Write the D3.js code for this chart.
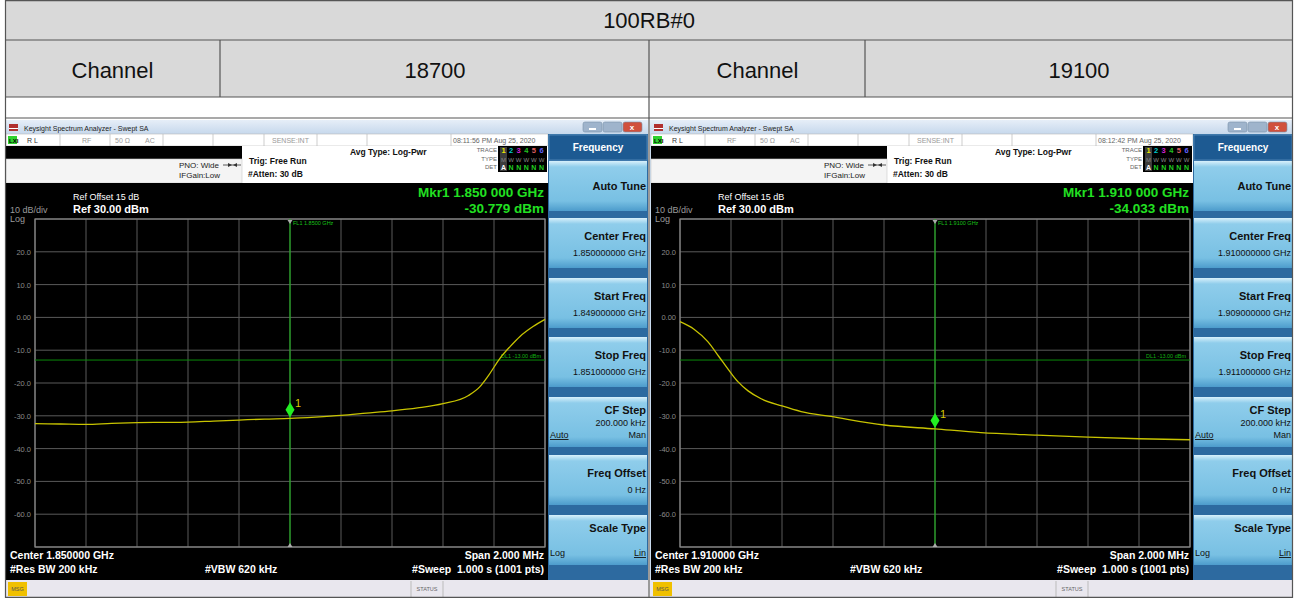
<!DOCTYPE html>
<html>
<head>
<meta charset="utf-8">
<script src="https://cdn.jsdelivr.net/npm/d3@7"></script>
<style>
  body { margin: 0; background: #fff; }
  svg { display: block; }
  text { font-family: "Liberation Sans", Arial, sans-serif; }
</style>
</head>
<body>
<svg id="chart" width="1298" height="598"></svg>
<script>
// table header
var tableTitle = "100RB#0";
var channelLabel = "Channel";
var channels = ["18700", "19100"];

// analyzer settings for each channel
var centerGHz = ["1.850000", "1.910000"];
var startGHz = ["1.849000000", "1.909000000"];
var stopGHz = ["1.851000000", "1.911000000"];
var centerFull = ["1.850000000", "1.910000000"];
var timeStamps = ["08:11:56 PM Aug 25, 2020", "08:12:42 PM Aug 25, 2020"];
var mkrFreq = ["1.850 000 GHz", "1.910 000 GHz"];
var mkrDbm = [-30.779, -34.033];
var mkrMHz = [1850.0, 1910.0];
var flLabel = ["FL1 1.8500 GHz", "FL1 1.9100 GHz"];
var spanMHz = [[1849.0, 1851.0], [1909.0, 1911.0]];
var displayLine = -13;

// y axis (dBm)
var yTicks = [30, 20, 10, 0, -10, -20, -30, -40, -50, -60, -70];

var trace1Freq = [1849.0, 1849.1, 1849.2, 1849.3, 1849.4, 1849.5, 1849.6, 1849.7, 1849.8, 1849.9,
                  1850.0, 1850.1, 1850.2, 1850.3, 1850.4, 1850.5, 1850.6, 1850.7, 1850.745, 1850.776,
                  1850.824, 1850.863, 1850.902, 1850.953, 1851.0];
var trace1Dbm = [-32.4, -32.5, -32.6, -32.3, -32.1, -32.0, -31.9, -31.6, -31.3, -31.0,
                 -30.8, -30.4, -29.9, -29.2, -28.5, -27.6, -26.3, -23.8, -21.1, -18.0,
                 -12.4, -8.9, -5.8, -2.8, -0.6];

// trace 2 : channel 19100
var trace2Freq = [1909.0, 1909.055, 1909.109, 1909.153, 1909.2, 1909.227, 1909.267, 1909.318, 1909.4,
                  1909.475, 1909.592, 1909.8, 1910.0, 1910.18, 1910.4, 1910.6, 1910.8, 1911.0];
var trace2Dbm = [-1.3, -3.6, -7.4, -12.0, -17.0, -19.6, -22.4, -24.8, -27.0,
                 -28.7, -30.2, -32.8, -34.0, -35.1, -35.9, -36.5, -37.0, -37.3];

var traces = [[trace1Freq, trace1Dbm], [trace2Freq, trace2Dbm]];

var panelButtons = ["Auto Tune", "Center Freq", "Start Freq", "Stop Freq", "CF Step", "Freq Offset", "Scale Type"];

function num(v, d){ return v.toFixed(d); }  // plain hyphen minus like the instrument

var svg = d3.select("#chart");
var defs = svg.append("defs");

var btnGrad = defs.append("linearGradient").attr("id", "btn").attr("x1", 0).attr("y1", 0).attr("x2", 0).attr("y2", 1);
btnGrad.append("stop").attr("offset", "0").attr("stop-color", "#d8f0fb");
btnGrad.append("stop").attr("offset", "0.12").attr("stop-color", "#8fcdeb");
btnGrad.append("stop").attr("offset", "0.8").attr("stop-color", "#78c0e3");
btnGrad.append("stop").attr("offset", "1").attr("stop-color", "#4d9ccc");

var titleGrad = defs.append("linearGradient").attr("id", "tbar").attr("x1", 0).attr("y1", 0).attr("x2", 0).attr("y2", 1);
titleGrad.append("stop").attr("offset", "0").attr("stop-color", "#e6eef8");
titleGrad.append("stop").attr("offset", "1").attr("stop-color", "#c6d8ec");

// ---- table ----
var tbl = svg.append("g");
tbl.append("rect").attr("x", 5).attr("y", 0).attr("width", 1288).attr("height", 97).attr("fill", "#d9d9d9");
tbl.append("text").attr("x", 649).attr("y", 28).attr("text-anchor", "middle")
  .style("font-size", "22px").attr("fill", "#111").text(tableTitle);
var cellX = [5, 220, 650, 865, 1293];
var cellTexts = [channelLabel, channels[0], channelLabel, channels[1]];
cellTexts.forEach(function(t, i){
  tbl.append("text").attr("x", (cellX[i] + cellX[i+1]) / 2).attr("y", 78).attr("text-anchor", "middle")
    .style("font-size", "22px").attr("fill", "#111").text(t);
});

// ---- screenshots ----
function drawScreen(x0, k){
  var g = svg.append("g").attr("transform", "translate(" + x0 + ",0)");
  var W = 643;

  // window frame + title bar
  g.append("rect").attr("x", 0).attr("y", 120).attr("width", W).attr("height", 478).attr("fill", "#c9dbee");
  g.append("rect").attr("x", 0).attr("y", 120).attr("width", W).attr("height", 14).attr("fill", "url(#tbar)");
  g.append("rect").attr("x", 4).attr("y", 124).attr("width", 9).attr("height", 7).attr("fill", "#b03030");
  g.append("rect").attr("x", 4).attr("y", 128).attr("width", 9).attr("height", 1).attr("fill", "#fff");
  g.append("text").attr("x", 19).attr("y", 131).style("font-size", "7px").attr("fill", "#222")
    .text("Keysight Spectrum Analyzer - Swept SA");
  [[578, "#9fb4cc"], [598, "#9fb4cc"], [618, "#d0503c"]].forEach(function(b){
    g.append("rect").attr("x", b[0]).attr("y", 122).attr("width", 19).attr("height", 10).attr("rx", 2)
      .attr("fill", b[1]).attr("stroke", "#7890aa").attr("stroke-width", 0.6);
  });
  g.append("rect").attr("x", 584).attr("y", 128).attr("width", 7).attr("height", 2).attr("fill", "#fff");
  g.append("text").attr("x", 627).attr("y", 130).attr("text-anchor", "middle").style("font-size", "8px")
    .attr("fill", "#fff").style("font-weight", "bold").text("x");

  // status row
  g.append("rect").attr("x", 1).attr("y", 134).attr("width", 542).attr("height", 12).attr("fill", "#fff")
    .attr("stroke", "#b8b8b8").attr("stroke-width", 0.6);
  g.append("rect").attr("x", 3).attr("y", 136).attr("width", 9).attr("height", 8).attr("fill", "#2fd12f");
  g.append("text").attr("x", 4).attr("y", 143).style("font-size", "6px").style("font-weight", "bold").attr("fill", "#000").text("LXI");
  [55, 105, 158, 208, 259, 312, 362, 446].forEach(function(sx){
    g.append("line").attr("x1", sx).attr("x2", sx).attr("y1", 134).attr("y2", 146).attr("stroke", "#b8b8b8").attr("stroke-width", 0.7);
  });
  var stat = [[22, "R L", "#333"], [77, "RF", "#999"], [110, "50 Ω", "#999"], [140, "AC", "#999"], [267, "SENSE:INT", "#999"], [448, timeStamps[k], "#666"]];
  stat.forEach(function(s){
    g.append("text").attr("x", s[0]).attr("y", 143).style("font-size", "7px").attr("fill", s[2]).text(s[1]);
  });

  // settings area
  g.append("rect").attr("x", 1).attr("y", 146).attr("width", 542).attr("height", 37).attr("fill", "#fff");
  g.append("rect").attr("x", 1).attr("y", 146).attr("width", 236).attr("height", 13).attr("fill", "#000");
  g.append("rect").attr("x", 1).attr("y", 159).attr("width", 236).attr("height", 24).attr("fill", "#f4f4f4")
    .attr("stroke", "#c8c8c8").attr("stroke-width", 0.6);
  g.append("text").attr("x", 214).attr("y", 168).attr("text-anchor", "end").style("font-size", "8px").attr("fill", "#222").text("PNO: Wide");
  g.append("text").attr("x", 215).attr("y", 178).attr("text-anchor", "end").style("font-size", "8px").attr("fill", "#222").text("IFGain:Low");
  g.append("line").attr("x1", 218).attr("x2", 236).attr("y1", 165).attr("y2", 165).attr("stroke", "#333").attr("stroke-width", 0.8);
  g.append("path").attr("d", "M223,163L227,165L223,167Z M232,163L228,165L232,167Z").attr("fill", "#333");
  g.append("text").attr("x", 244).attr("y", 164).style("font-size", "8.5px").style("font-weight", "bold").attr("fill", "#111").text("Trig: Free Run");
  g.append("text").attr("x", 243).attr("y", 177).style("font-size", "8.5px").style("font-weight", "bold").attr("fill", "#111").text("#Atten: 30 dB");
  g.append("text").attr("x", 345).attr("y", 155).style("font-size", "8.5px").style("font-weight", "bold").attr("fill", "#111").text("Avg Type: Log-Pwr");

  // trace box
  var tx = 493;
  ["TRACE", "TYPE", "DET"].forEach(function(t, i){
    g.append("text").attr("x", tx - 1).attr("y", 152 + i * 8.5).attr("text-anchor", "end").style("font-size", "6px").attr("fill", "#666").text(t);
  });
  g.append("rect").attr("x", tx).attr("y", 146).attr("width", 49).attr("height", 26).attr("fill", "#000");
  g.append("rect").attr("x", tx + 2).attr("y", 147).attr("width", 7).attr("height", 24).attr("fill", "#3c3c3c");
  var tcol = ["#e8e800", "#00c8c8", "#d020d0", "#20c020", "#e06060", "#6060ff"];
  tcol.forEach(function(c, i){
    g.append("text").attr("x", tx + 5.5 + i * 7.6).attr("y", 153).attr("text-anchor", "middle")
      .style("font-size", "7.5px").style("font-weight", "bold").attr("fill", c).text(i + 1);
    g.append("text").attr("x", tx + 5.5 + i * 7.6).attr("y", 170).attr("text-anchor", "middle")
      .style("font-size", "7px").style("font-weight", "bold").attr("fill", i === 0 ? "#fff" : "#20d020").text(i === 0 ? "A" : "N");
    g.append("text").attr("x", tx + 5.5 + i * 7.6).attr("y", 161.5).attr("text-anchor", "middle")
      .style("font-size", "6px").attr("fill", "#888").text(i === 0 ? "M" : "W");
  });

  // main black screen
  g.append("rect").attr("x", 1).attr("y", 183).attr("width", 542).attr("height", 397).attr("fill", "#000");
  g.append("text").attr("x", 68).attr("y", 200).style("font-size", "9px").attr("fill", "#fff").text("Ref Offset 15 dB");
  g.append("text").attr("x", 68).attr("y", 213).style("font-size", "11px").style("font-weight", "bold").attr("fill", "#fff").text("Ref 30.00 dBm");
  g.append("text").attr("x", 5).attr("y", 213).style("font-size", "9px").attr("fill", "#9a9a9a").text("10 dB/div");
  g.append("text").attr("x", 5).attr("y", 222).style("font-size", "9px").attr("fill", "#9a9a9a").text("Log");
  g.append("text").attr("x", 539).attr("y", 197).attr("text-anchor", "end").style("font-size", "13.5px").style("font-weight", "bold")
    .attr("fill", "#22e022").text("Mkr1 " + mkrFreq[k]);
  g.append("text").attr("x", 539).attr("y", 213).attr("text-anchor", "end").style("font-size", "13.5px").style("font-weight", "bold")
    .attr("fill", "#22e022").text(num(mkrDbm[k], 3) + " dBm");

  // plot
  var x = d3.scaleLinear().domain(spanMHz[k]).range([30, 540]);
  var y = d3.scaleLinear().domain([-70, 30]).range([547, 219]);
  var xTicks = d3.range(11).map(function(i){ return spanMHz[k][0] + i * (spanMHz[k][1] - spanMHz[k][0]) / 10; });
  var plot = g.append("g");
  plot.selectAll(".vg").data(xTicks).enter().append("line")
    .attr("x1", function(d){ return x(d); }).attr("x2", function(d){ return x(d); })
    .attr("y1", 219).attr("y2", 547).attr("stroke", "#5a5a5a").attr("stroke-width", 1);
  plot.selectAll(".hg").data(yTicks).enter().append("line")
    .attr("x1", 30).attr("x2", 540)
    .attr("y1", function(d){ return y(d); }).attr("y2", function(d){ return y(d); })
    .attr("stroke", "#5a5a5a").attr("stroke-width", 1);
  plot.append("rect").attr("x", 30).attr("y", 219).attr("width", 510).attr("height", 328)
    .attr("fill", "none").attr("stroke", "#8a8a8a").attr("stroke-width", 1.2);
  plot.selectAll(".yl").data(yTicks.slice(1, -1)).enter().append("text")
    .attr("x", 26).attr("y", function(d){ return y(d) + 3; }).attr("text-anchor", "end")
    .style("font-size", "7.5px").attr("fill", "#8a8a8a")
    .text(function(d){ return d === 0 ? "0.00" : num(d, 1); });

  // display line
  plot.append("line").attr("x1", 30).attr("x2", 540).attr("y1", y(displayLine)).attr("y2", y(displayLine))
    .attr("stroke", "#0a8a0a").attr("stroke-width", 1);
  plot.append("text").attr("x", 536).attr("y", y(displayLine) - 2).attr("text-anchor", "end")
    .style("font-size", "5.5px").attr("fill", "#12b012").text("DL1 " + num(displayLine, 2) + " dBm");

  // frequency line
  var mx = x(mkrMHz[k]);
  plot.append("line").attr("x1", mx).attr("x2", mx).attr("y1", 219).attr("y2", 547)
    .attr("stroke", "#18c018").attr("stroke-width", 1);
  plot.append("text").attr("x", mx + 3).attr("y", 225).style("font-size", "5.5px").attr("fill", "#18c018").text(flLabel[k]);
  plot.append("path").attr("d", "M" + (mx - 2.5) + ",220L" + (mx + 2.5) + ",220L" + mx + ",224Z").attr("fill", "#aaa");
  plot.append("path").attr("d", "M" + (mx - 2.5) + ",547L" + (mx + 2.5) + ",547L" + mx + ",543Z").attr("fill", "#aaa");

  // trace
  var tr = traces[k];
  var pts = tr[0].map(function(f, i){ return [f, tr[1][i]]; });
  var line = d3.line().x(function(d){ return x(d[0]); }).y(function(d){ return y(d[1]); }).curve(d3.curveMonotoneX);
  plot.append("path").datum(pts).attr("d", line).attr("fill", "none")
    .attr("stroke", "#c8c400").attr("stroke-width", 1.3);

  // marker
  var my = y(mkrDbm[k]);
  plot.append("path").attr("d", "M" + mx + "," + (my - 16) + "L" + (mx + 4.5) + "," + (my - 8.5) + "L" + mx + "," + (my - 1) + "L" + (mx - 4.5) + "," + (my - 8.5) + "Z")
    .attr("fill", "#22ee22");
  plot.append("text").attr("x", mx + 5).attr("y", my - 11).style("font-size", "11px").attr("fill", "#d8c800").text("1");

  // bottom annotations
  var bt = [[5, 559, "start", "Center " + centerGHz[k] + " GHz"], [5, 573, "start", "#Res BW 200 kHz"],
            [200, 573, "start", "#VBW 620 kHz"], [539, 559, "end", "Span 2.000 MHz"], [539, 573, "end", "#Sweep  1.000 s (1001 pts)"]];
  bt.forEach(function(b){
    g.append("text").attr("x", b[0]).attr("y", b[1]).attr("text-anchor", b[2]).style("font-size", "10.5px")
      .style("font-weight", "bold").style("white-space", "pre").attr("fill", "#fff").text(b[3]);
  });

  // status bar
  g.append("rect").attr("x", 0).attr("y", 580).attr("width", W).attr("height", 17).attr("fill", "#e9e7ee");
  g.append("rect").attr("x", 3).attr("y", 582).attr("width", 19).attr("height", 14).attr("fill", "#f0c000");
  g.append("text").attr("x", 12.5).attr("y", 591).attr("text-anchor", "middle").style("font-size", "5.5px").attr("fill", "#555").text("MSG");
  g.append("line").attr("x1", 406).attr("x2", 406).attr("y1", 581).attr("y2", 597).attr("stroke", "#bbb");
  g.append("line").attr("x1", 438).attr("x2", 438).attr("y1", 581).attr("y2", 597).attr("stroke", "#bbb");
  g.append("text").attr("x", 422).attr("y", 591).attr("text-anchor", "middle").style("font-size", "5.5px").attr("fill", "#666").text("STATUS");

  // softkey panel
  var px = 543, pw = 100;
  g.append("rect").attr("x", px).attr("y", 134).attr("width", pw).attr("height", 446).attr("fill", "#2d6aa0");
  g.append("rect").attr("x", px + 1).attr("y", 135).attr("width", pw - 2).attr("height", 25).attr("fill", "#1d5a92")
    .attr("stroke", "#6a9cc8").attr("stroke-width", 0.6);
  g.append("text").attr("x", px + pw / 2).attr("y", 151).attr("text-anchor", "middle").style("font-size", "10px")
    .style("font-weight", "bold").attr("fill", "#fff").text("Frequency");
  var btnTop = [161, 218, 278, 337, 397, 455, 515];
  var sub = [null, centerFull[k] + " GHz", startGHz[k] + " GHz", stopGHz[k] + " GHz", "200.000 kHz", "0 Hz", null];
  btnTop.forEach(function(t, i){
    g.append("rect").attr("x", px + 1).attr("y", t).attr("width", pw - 2).attr("height", 50).attr("fill", "url(#btn)");
    var name = panelButtons[i];
    var ty = (i === 0) ? t + 29 : (i === 4 || i === 6) ? t + 17 : t + 22;
    g.append("text").attr("x", px + pw - 2).attr("y", ty).attr("text-anchor", "end").style("font-size", "11px")
      .style("font-weight", "bold").attr("fill", "#111").text(name);
    if (sub[i]) {
      g.append("text").attr("x", px + pw - 2).attr("y", i === 4 ? t + 29 : t + 38).attr("text-anchor", "end")
        .style("font-size", "9px").attr("fill", "#111").text(sub[i]);
    }
  });
  // CF Step Auto/Man
  g.append("text").attr("x", px + 2).attr("y", btnTop[4] + 41).style("font-size", "9px").style("text-decoration", "underline").attr("fill", "#111").text("Auto");
  g.append("text").attr("x", px + pw - 2).attr("y", btnTop[4] + 41).attr("text-anchor", "end").style("font-size", "9px").attr("fill", "#111").text("Man");
  // Scale Type Log/Lin
  g.append("text").attr("x", px + 2).attr("y", btnTop[6] + 41).style("font-size", "9px").attr("fill", "#111").text("Log");
  g.append("text").attr("x", px + pw - 2).attr("y", btnTop[6] + 41).attr("text-anchor", "end").style("font-size", "9px").style("text-decoration", "underline").attr("fill", "#111").text("Lin");
}

drawScreen(5, 0);
drawScreen(650, 1);

// table lines on top
var lines = svg.append("g").attr("stroke", "#555").attr("stroke-width", 1.2);
[[5, 0.6, 1293, 0.6], [5, 40, 1293, 40], [5, 97, 1293, 97], [5, 118, 1293, 118], [5, 597.4, 1293, 597.4],
 [5.5, 0, 5.5, 598], [1292.5, 0, 1292.5, 598], [220, 40, 220, 97], [865, 40, 865, 97], [649, 40, 649, 598]].forEach(function(l){
  lines.append("line").attr("x1", l[0]).attr("y1", l[1]).attr("x2", l[2]).attr("y2", l[3]);
});
</script>
</body>
</html>
